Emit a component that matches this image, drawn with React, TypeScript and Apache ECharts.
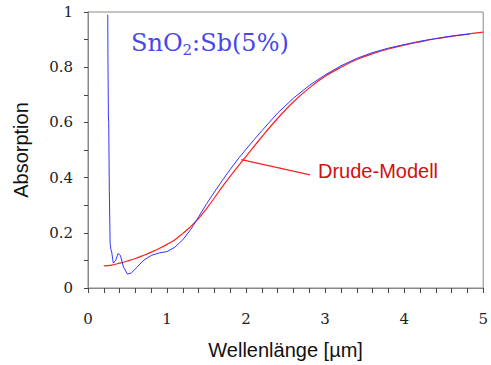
import React, { useEffect, useRef } from "react";
import * as echarts from "echarts";

// Measured spectrum (blue)
const measuredX = [0.25, 0.252, 0.258, 0.262, 0.27, 0.28, 0.29, 0.3, 0.32, 0.35, 0.38, 0.41, 0.45, 0.5, 0.55, 0.62, 0.7, 0.8, 0.9, 1.0, 1.1, 1.2, 1.3, 1.4, 1.5, 1.6, 1.7, 1.8, 1.9, 2.0, 2.1, 2.2, 2.4, 2.6, 2.8, 3.0, 3.2, 3.4, 3.6, 3.8, 4.0, 4.2, 4.4, 4.6, 4.83];
const measuredY = [0.99, 0.85, 0.62, 0.6, 0.35, 0.16, 0.14, 0.13, 0.09, 0.1, 0.125, 0.118, 0.075, 0.05, 0.055, 0.075, 0.1, 0.118, 0.127, 0.132, 0.148, 0.175, 0.212, 0.258, 0.305, 0.348, 0.39, 0.43, 0.468, 0.503, 0.537, 0.57, 0.634, 0.688, 0.734, 0.772, 0.805, 0.832, 0.853, 0.869, 0.882, 0.894, 0.904, 0.913, 0.92];

// Drude model (red)
const drudeX = [0.2, 0.3, 0.4, 0.5, 0.6, 0.7, 0.8, 0.9, 1.0, 1.1, 1.2, 1.3, 1.4, 1.5, 1.6, 1.7, 1.8, 1.9, 2.0, 2.2, 2.4, 2.6, 2.8, 3.0, 3.2, 3.4, 3.6, 3.8, 4.0, 4.2, 4.4, 4.6, 4.8, 5.0];
const drudeY = [0.08, 0.083, 0.09, 0.098, 0.107, 0.118, 0.13, 0.143, 0.158, 0.175, 0.198, 0.223, 0.252, 0.288, 0.327, 0.367, 0.405, 0.442, 0.477, 0.548, 0.615, 0.675, 0.725, 0.767, 0.8, 0.828, 0.849, 0.866, 0.88, 0.892, 0.903, 0.912, 0.92, 0.927];

// Leader line for the model label (data coordinates)
const leaderStart = [1.94, 0.465];
const leaderEnd = [2.81, 0.41];

const xTicks = [0, 1, 2, 3, 4, 5];
const yTicks = [0, 0.2, 0.4, 0.6, 0.8, 1];

const title = "SnO₂:Sb(5%)";
const modelLabel = "Drude-Modell";
const xName = "Wellenlänge [µm]";
const yName = "Absorption";

export default function App() {
  const ref = useRef<HTMLDivElement>(null);
  useEffect(() => {
    document.body.style.margin = "0";
    const chart = echarts.init(ref.current!, null, { renderer: "svg" });
    const axisColor = "#888";
    const serif = "DejaVu Serif";
    const sans = "Liberation Sans";
    chart.setOption({
      animation: false,
      backgroundColor: "#fff",
      grid: {
        left: 88,
        right: 5,
        top: 12,
        bottom: 77,
        show: true,
        borderColor: axisColor,
        borderWidth: 1,
      },
      xAxis: {
        type: "value",
        min: xTicks[0],
        max: xTicks[xTicks.length - 1],
        interval: 1,
        name: xName,
        nameLocation: "middle",
        nameGap: 52,
        nameTextStyle: { fontFamily: sans, fontSize: 20, color: "#111" },
        axisLine: { show: true, lineStyle: { color: axisColor } },
        axisTick: { show: true, length: 5, lineStyle: { color: "#444" } },
        minorTick: { show: true, splitNumber: 5, length: 5, lineStyle: { color: "#444" } },
        splitLine: { show: false },
        axisLabel: { fontFamily: serif, fontSize: 15, color: "#222", margin: 23 },
      },
      yAxis: {
        type: "value",
        min: yTicks[0],
        max: yTicks[yTicks.length - 1],
        interval: 0.2,
        name: yName,
        nameLocation: "middle",
        nameRotate: 90,
        nameGap: 57,
        nameTextStyle: { fontFamily: sans, fontSize: 20, color: "#111" },
        axisLine: { show: true, lineStyle: { color: axisColor } },
        axisTick: { show: true, length: 4, lineStyle: { color: "#444" } },
        minorTick: { show: true, splitNumber: 2, length: 4, lineStyle: { color: "#444" } },
        splitLine: { show: false },
        axisLabel: { fontFamily: serif, fontSize: 15, color: "#222", margin: 15 },
      },
      series: [
        {
          type: "line",
          name: "Drude",
          data: drudeX.map((x, i) => [x, drudeY[i]]),
          showSymbol: false,
          smooth: 0.4,
          lineStyle: { color: "#ff2020", width: 1.2 },
          z: 2,
          markLine: {
            silent: true,
            symbol: ["none", "none"],
            label: { show: false },
            lineStyle: { color: "#ff2020", width: 1.2, type: "solid" },
            data: [[{ coord: leaderStart }, { coord: leaderEnd }]],
          },
        },
        {
          type: "line",
          name: "Messung",
          data: measuredX.map((x, i) => [x, measuredY[i]]),
          showSymbol: false,
          smooth: false,
          lineStyle: { color: "#3535ff", width: 1 },
          z: 3,
        },
      ],
      graphic: [
        {
          type: "text",
          left: 131,
          top: 31,
          style: {
            text: "{m|SnO}{s|2}{m|:Sb(5%)}",
            rich: {
              m: { fontFamily: serif, fontSize: 24, fill: "#4848e8" },
              s: { fontFamily: serif, fontSize: 15, fill: "#4848e8", padding: [14, 0, 0, 0] },
            },
          },
        },
        {
          type: "text",
          left: 318,
          top: 161,
          style: {
            text: modelLabel,
            fontFamily: sans,
            fontSize: 20,
            fill: "#d01010",
          },
        },
      ],
    });
    return () => chart.dispose();
  }, []);
  return <div ref={ref} style={{ width: 491, height: 365 }} />;
}
